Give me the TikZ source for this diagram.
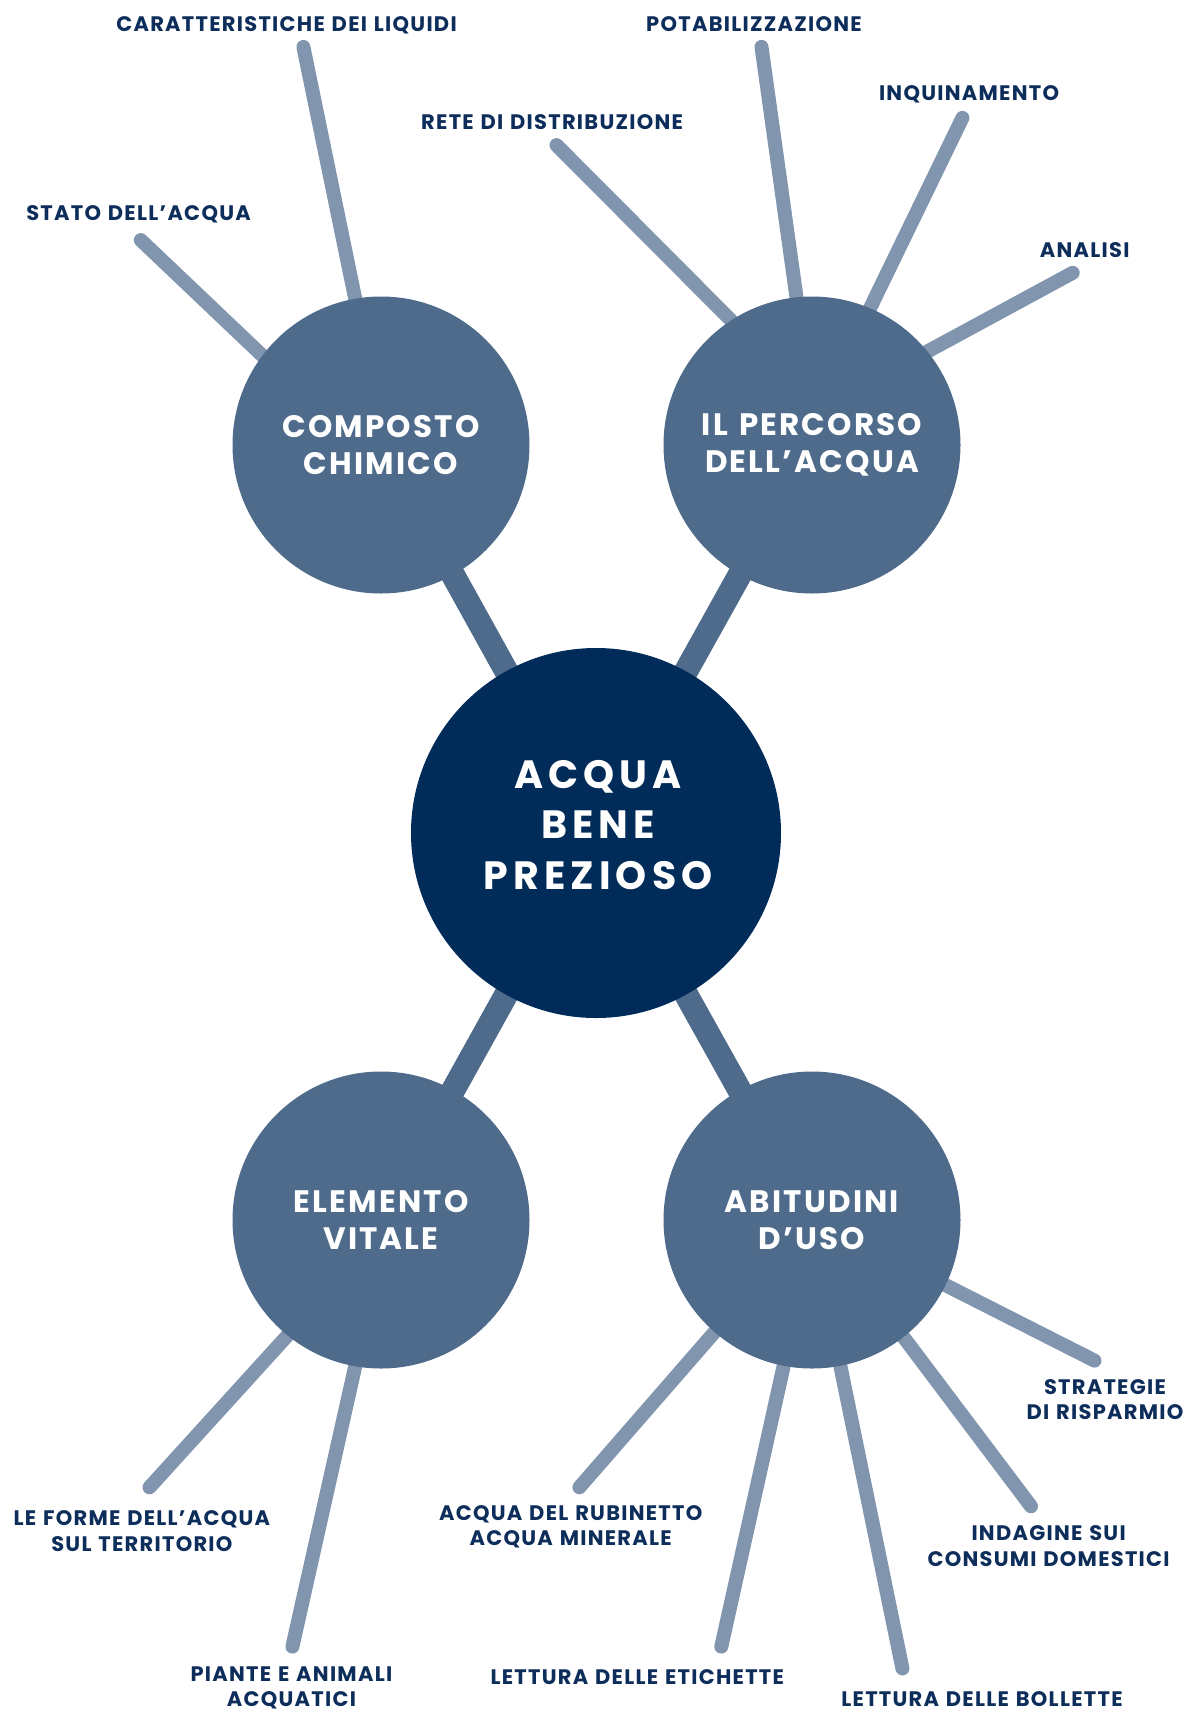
\documentclass[tikz,border=0pt]{standalone}
\usepackage{fontspec}
\setmainfont{Poppins}
\newfontfamily\hubfont[LetterSpace=13,WordSpace=1.2]{Poppins}
\newfontfamily\satfont[LetterSpace=7,WordSpace=1.3]{Poppins}
\newfontfamily\labfont[LetterSpace=6,WordSpace=1.2]{Poppins}
\usetikzlibrary{backgrounds}
\definecolor{navy}{HTML}{012B58}
\definecolor{slate}{HTML}{4E6B8B}
\definecolor{twigc}{HTML}{8195AE}
\definecolor{labc}{HTML}{0D2D5A}
\begin{document}
\begin{tikzpicture}[x=1pt,y=-1pt,
  hub/.style={circle, fill=navy, minimum size=370pt, inner sep=0pt},
  hubtext/.style={text=white, align=center, inner sep=0pt,
    font=\hubfont\bfseries\fontsize{39.5}{50.6}\selectfont},
  sat/.style={circle, fill=slate, minimum size=297pt, inner sep=0pt, text=white, align=center,
    font=\satfont\bfseries\fontsize{31}{36.7}\selectfont},
  biglink/.style={line width=24pt, draw=slate},
  twig/.style={line width=14pt, draw=twigc, line cap=round},
  lab/.style={text=labc, align=center, inner sep=0pt, anchor=north,
    font=\labfont\bfseries\fontsize{21}{25.5}\selectfont}
]
\useasboundingbox (0,0) rectangle (1185,1711);

% circles
\node[hub] (hub) at (596,833) {};
\node[hubtext] (hubt) at (598,825) {ACQUA\\BENE\\PREZIOSO};
\node[sat] (cc) at (381,445) {COMPOSTO\\CHIMICO};
\node[sat] (ip) at (812,445) {IL PERCORSO\\DELL’ACQUA};
\node[sat] (ev) at (381,1220) {ELEMENTO\\VITALE};
\node[sat] (au) at (812,1220) {ABITUDINI\\D’USO};

% outer ends of branches
\coordinate (oStato) at (140.8,240.1);
\coordinate (oCaratt) at (303.4,47);
\coordinate (oRete) at (556.5,145.1);
\coordinate (oPotab) at (761.5,46.9);
\coordinate (oInquin) at (962.4,117.9);
\coordinate (oAnalisi) at (1072.7,272.8);
\coordinate (oForme) at (149.5,1487.3);
\coordinate (oPiante) at (292.4,1646.6);
\coordinate (oStrat) at (1094.5,1360.6);
\coordinate (oIndag) at (1031,1506.3);
\coordinate (oBoll) at (902.4,1668.4);
\coordinate (oEtich) at (721.3,1646.6);
\coordinate (oRubin) at (579.4,1487.3);

\begin{scope}[on background layer]
  \draw[biglink] (hub.center) -- (cc.center);
  \draw[biglink] (hub.center) -- (ip.center);
  \draw[biglink] (hub.center) -- (ev.center);
  \draw[biglink] (hub.center) -- (au.center);
  \draw[twig] (cc.143) -- (oStato);
  \draw[twig] (cc.100) -- (oCaratt);
  \draw[twig] (ip.123) -- (oRete);
  \draw[twig] (ip.96) -- (oPotab);
  \draw[twig] (ip.67) -- (oInquin);
  \draw[twig] (ip.39) -- (oAnalisi);
  \draw[twig] (ev.-129) -- (oForme);
  \draw[twig] (ev.-100) -- (oPiante);
  \draw[twig] (au.-26) -- (oStrat);
  \draw[twig] (au.-52) -- (oIndag);
  \draw[twig] (au.-79) -- (oBoll);
  \draw[twig] (au.-101) -- (oEtich);
  \draw[twig] (au.-131) -- (oRubin);
\end{scope}

% labels
\node[lab] (lStato) at (138.6,205.3) {STATO DELL’ACQUA};
\node[lab] (lCaratt) at (286.5,16.7) {CARATTERISTICHE DEI LIQUIDI};
\node[lab] (lRete) at (552.1,114.7) {RETE DI DISTRIBUZIONE};
\node[lab] (lPotab) at (754,16.5) {POTABILIZZAZIONE};
\node[lab] (lInquin) at (969,85.3) {INQUINAMENTO};
\node[lab] (lAnalisi) at (1084.7,242.4) {ANALISI};
\node[lab] (lForme) at (141.9,1510.4) {LE FORME DELL’ACQUA\\SUL TERRITORIO};
\node[lab] (lPiante) at (291.4,1666.4) {PIANTE E ANIMALI\\ACQUATICI};
\node[lab] (lStrat) at (1105,1379) {STRATEGIE\\DI RISPARMIO};
\node[lab] (lIndag) at (1048.6,1525.6) {INDAGINE SUI\\CONSUMI DOMESTICI};
\node[lab] (lBoll) at (982,1691.5) {LETTURA DELLE BOLLETTE};
\node[lab] (lEtich) at (637.3,1669.7) {LETTURA DELLE ETICHETTE};
\node[lab] (lRubin) at (570.7,1504.9) {ACQUA DEL RUBINETTO\\ACQUA MINERALE};
\end{tikzpicture}
\end{document}
